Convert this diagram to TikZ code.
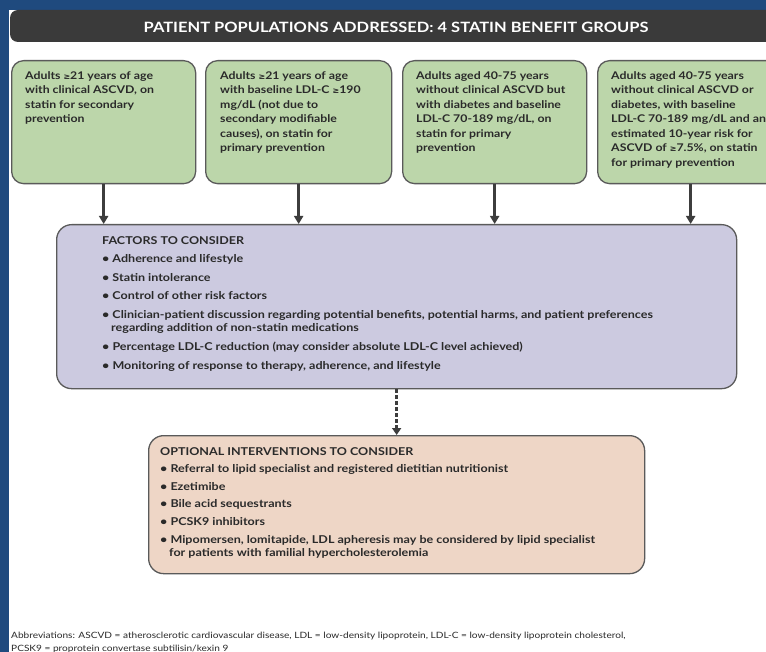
\documentclass[tikz,border=0pt]{standalone}
\usepackage{fontspec}
\setmainfont{Lato}[FakeStretch=1.16]
\newfontfamily\symf{DejaVu Sans}
\usetikzlibrary{arrows.meta}
\definecolor{bgblue}{HTML}{1F4A7E}
\definecolor{hdrgray}{HTML}{3A3A3A}
\definecolor{grpgreen}{HTML}{BCD6AA}
\definecolor{facpurple}{HTML}{CCCAE0}
\definecolor{optorange}{HTML}{EED6C6}
\definecolor{edgegray}{HTML}{5A5A5A}
\definecolor{arrgray}{HTML}{3D3D3D}
\definecolor{txtdark}{HTML}{2A2A2A}
\newcommand{\mygeq}{{\symf\fontsize{8}{8}\selectfont ≥}}
\tikzset{
  grpbox/.style={draw=edgegray, line width=1.3pt, fill=grpgreen, rounded corners=12pt,
    minimum width=184pt, minimum height=123pt, anchor=north west, inner sep=0pt},
  bigbox/.style={draw=edgegray, line width=1.3pt, rounded corners=15pt, anchor=north west, inner sep=0pt},
  grptext/.style={anchor=north west, inner sep=0pt, align=left, text=txtdark,
    font=\fontsize{10.6}{14.5}\selectfont\bfseries},
  listtext/.style={anchor=north west, inner sep=0pt, align=left, text=txtdark,
    font=\fontsize{10.8}{13.8}\selectfont\bfseries},
  solidarrow/.style={draw=arrgray, line width=3pt, -{Triangle[length=8pt,width=9pt]}},
  dotarrow/.style={draw=arrgray, line width=3.5pt, dash pattern=on 3.5pt off 2.5pt,
    -{Triangle[length=7pt,width=9pt]}},
}
\begin{document}
\begin{tikzpicture}[x=1pt,y=-1pt]
\useasboundingbox (0,0) rectangle (766,652);
\fill[bgblue] (0,0) rectangle (766,652);
\fill[white] (9,10) rectangle (766,652);
\begin{scope}
\clip (9,10) rectangle (766,652);
% header
\fill[hdrgray, rounded corners=8pt] (10,10) rectangle (800,42);
\node[text=white, font=\fontsize{14.2}{14.2}\selectfont\bfseries, inner sep=0pt] (title) at (396,27)
  {PATIENT POPULATIONS ADDRESSED: 4 STATIN BENEFIT GROUPS};
% four groups
\node[grpbox] (g1) at (11,60) {};
\node[grpbox, minimum width=186pt] (g2) at (205,60) {};
\node[grpbox] (g3) at (402,60) {};
\node[grpbox, minimum width=186pt] (g4) at (597,60) {};
\node[grptext] (t1) at (25,71) {Adults \mygeq21 years of age\\with clinical ASCVD, on\\statin for secondary\\prevention};
\node[grptext] (t2) at (220,71) {Adults \mygeq21 years of age\\with baseline LDL-C \mygeq190\\mg/dL (not due to\\secondary modifiable\\causes), on statin for\\primary prevention};
\node[grptext] (t3) at (416,71) {Adults aged 40-75 years\\without clinical ASCVD but\\with diabetes and baseline\\LDL-C 70-189 mg/dL, on\\statin for primary\\prevention};
\node[grptext] (t4) at (611,71) {Adults aged 40-75 years\\without clinical ASCVD or\\diabetes, with baseline\\LDL-C 70-189 mg/dL and an\\estimated 10-year risk for\\ASCVD of \mygeq7.5\%, on statin\\for primary prevention};
% factors box
\node[bigbox, fill=facpurple, minimum width=680pt, minimum height=164pt] (fac) at (56,224) {};
\node[listtext] (factxt) at (102,236) {FACTORS TO CONSIDER\\[4.7pt]
• Adherence and lifestyle\\[4.7pt]
• Statin intolerance\\[4.7pt]
• Control of other risk factors\\[4.7pt]
• Clinician-patient discussion regarding potential benefits, potential harms, and patient preferences\\
\hspace*{9pt}regarding addition of non-statin medications\\[5pt]
• Percentage LDL-C reduction (may consider absolute LDL-C level achieved)\\[5pt]
• Monitoring of response to therapy, adherence, and lifestyle};
% optional box
\node[bigbox, fill=optorange, minimum width=496pt, minimum height=138pt] (opt) at (148,435) {};
\node[listtext] (opttxt) at (160,447) {OPTIONAL INTERVENTIONS TO CONSIDER\\[3.8pt]
• Referral to lipid specialist and registered dietitian nutritionist\\[3.8pt]
• Ezetimibe\\[3.8pt]
• Bile acid sequestrants\\[3.8pt]
• PCSK9 inhibitors\\[3.8pt]
• Mipomersen, lomitapide, LDL apheresis may be considered by lipid specialist\\
\hspace*{9pt}for patients with familial hypercholesterolemia};
% arrows
\foreach \g in {g1,g2,g3,g4}{
  \draw[solidarrow] (\g.south) -- (\g.south |- fac.north);
}
\draw[dotarrow] (fac.south) -- (opt.north);
% abbreviations
\node[anchor=north west, inner sep=0pt, align=left, text=txtdark,
  font=\fontsize{8.7}{13.5}\selectfont] (abbr) at (11,631.5)
  {Abbreviations: ASCVD = atherosclerotic cardiovascular disease, LDL = low-density lipoprotein, LDL-C = low-density lipoprotein cholesterol,\\
PCSK9 = proprotein convertase subtilisin/kexin 9};
\end{scope}
\end{tikzpicture}
\end{document}
